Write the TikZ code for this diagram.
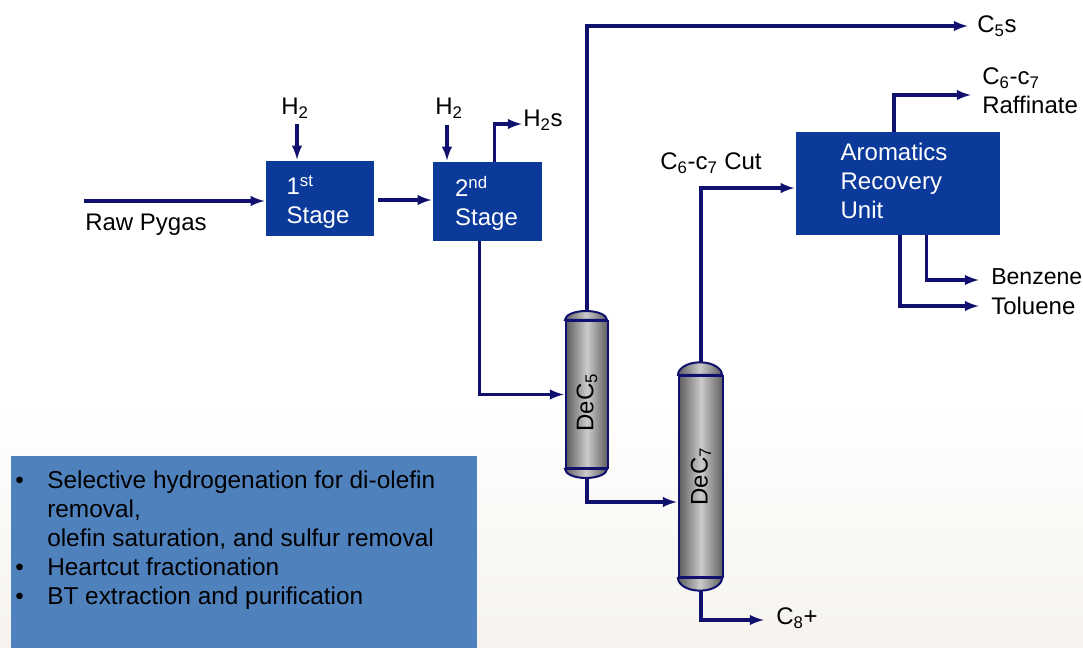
\documentclass[tikz,border=0pt]{standalone}
\usepackage{fontspec}
\setmainfont{Liberation Sans}
\usetikzlibrary{arrows}
\definecolor{flowc}{HTML}{10106E}
\definecolor{unitc}{HTML}{0B3A9A}
\definecolor{panelc}{HTML}{4F81BD}
\definecolor{groundc}{HTML}{F6F3EE}
\definecolor{shellc}{HTML}{5E5E5E}
\definecolor{corec}{HTML}{CBCBCB}
\tikzset{
  flow/.style={draw=flowc,line width=2.5pt,-latex,shorten >=1pt},
  unit/.style={fill=unitc,text=white,align=left,inner sep=0pt,font=\fontsize{18}{21.75}\selectfont},
  column/.style={draw=flowc,line width=1.5pt,left color=shellc,right color=shellc,middle color=corec,inner sep=0pt,font=\fontsize{18}{21.75}\selectfont},
  stream/.style={anchor=west,align=left,inner sep=0pt,font=\fontsize{18}{21.75}\selectfont}
}

\begin{document}
\begin{tikzpicture}[x=0.75pt,y=-0.75pt]
\useasboundingbox (0,0) rectangle (1083,648);
\fill[white] (0,0) rectangle (1083,400);
\shade[top color=white,bottom color=groundc] (0,400) rectangle (1083,648);

% units
\node[unit,minimum width=81pt,minimum height=56.25pt] (stageone) at (320,198.5) {\rule{0pt}{20pt}1\textsuperscript{st}\\Stage\rule{3pt}{0pt}};
\node[unit,minimum width=81.75pt,minimum height=59.25pt] (stagetwo) at (487.5,201.5) {\rule{0pt}{18pt}2\textsuperscript{nd}\\Stage\rule{1.5pt}{0pt}};
\node[unit,minimum width=153pt,minimum height=77.25pt] (recovery) at (898,183.5) {Aromatics\rule{6pt}{0pt}\\Recovery\\Unit\rule[-4.5pt]{0pt}{4.5pt}};

% columns
\node[column,minimum width=31.5pt,minimum height=110.25pt] (decfive) at (587,394.5) {\rotatebox{90}{DeC\textsubscript{5}\hspace{12pt}}};
\node[column,minimum width=33pt,minimum height=150.75pt] (decseven) at (701,476.5) {\rotatebox{90}{DeC\textsubscript{7}}};
\foreach \col/\rx/\ry in {decfive/15.75pt/6.75pt,decseven/16.5pt/9.5pt}{
  \draw[draw=flowc,line width=1.5pt,left color=shellc,right color=shellc,middle color=corec] (\col.north west) arc[start angle=180,end angle=0,x radius=\rx,y radius=\ry] -- cycle;
  \draw[draw=flowc,line width=1.5pt,left color=shellc,right color=shellc,middle color=corec] (\col.south west) arc[start angle=180,end angle=360,x radius=\rx,y radius=\ry] -- cycle;
}

% stream labels
\node[stream] (rawpygas) at (85,225) {Raw Pygas};
\node[stream] (hone) at (281,108) {H\textsubscript{2}};
\node[stream] (htwo) at (435,108) {H\textsubscript{2}};
\node[stream] (hsulf) at (523,120) {H\textsubscript{2}s};
\node[stream] (cfive) at (977,26) {C\textsubscript{5}s};
\node[stream] (cut) at (660,163) {C\textsubscript{6}-c\textsubscript{7} Cut};
\node[stream] (raffinate) at (982,91) {C\textsubscript{6}-c\textsubscript{7}\\Raffinate};
\node[stream,font=\fontsize{17.3}{21.75}\selectfont] (benzene) at (991,277) {Benzene};
\node[stream] (toluene) at (991,306) {Toluene};
\node[stream] (ceight) at (776,618) {C\textsubscript{8}+};

% free ends
\coordinate (rawstart) at (84,201);
\coordinate (stagelink) at (378,200);
\coordinate (honestart) at (297,124);
\coordinate (htwostart) at (447,125);
\coordinate (hsulfend) at (523,124);
\coordinate (cfiveend) at (969,26);
\coordinate (raffend) at (972,95);
\coordinate (benzeneend) at (980,280);
\coordinate (tolueneend) at (980,306);
\coordinate (ceightend) at (765,620);
\coordinate (sevenfeed) at (678,502);

% streams
\draw[flow] (rawstart) -- (rawstart -| stageone.west);
\draw[flow] (honestart) -- (honestart |- stageone.north);
\draw[flow] (stagelink) -- (stagelink -| stagetwo.west);
\draw[flow] (htwostart) -- (htwostart |- stagetwo.north);
\draw[flow] ([xshift=5pt]stagetwo.north) |- (hsulfend);
\draw[flow] ([xshift=-6pt]stagetwo.south) |- (decfive.west);
\draw[flow] ([yshift=6.75pt]decfive.north) |- (cfiveend);
\draw[flow] ([yshift=-6.75pt]decfive.south) |- (sevenfeed);
\draw[flow] ([yshift=9.5pt]decseven.north) |- ([yshift=-3.4pt]recovery.west);
\draw[flow] ([yshift=-9.5pt]decseven.south) |- (ceightend);
\draw[flow] ([xshift=-3pt]recovery.north) |- (raffend);
\draw[flow] ([xshift=21.5pt]recovery.south) |- (benzeneend);
\draw[flow] ([xshift=1.5pt]recovery.south) |- (tolueneend);

% notes
\node[fill=panelc,minimum width=349.5pt,minimum height=144pt,inner sep=0pt] (panel) at (244,552) {};
\node[anchor=north west,inner sep=0pt,font=\fontsize{18.3}{21.75}\selectfont] (notes) at (15,468) {%
\begin{tabular}{@{}p{24pt}@{}l@{}}
•&Selective hydrogenation for di-olefin\\
&removal,\\
&olefin saturation, and sulfur removal\\
•&Heartcut fractionation\\
•&BT extraction and purification
\end{tabular}};
\end{tikzpicture}
\end{document}
